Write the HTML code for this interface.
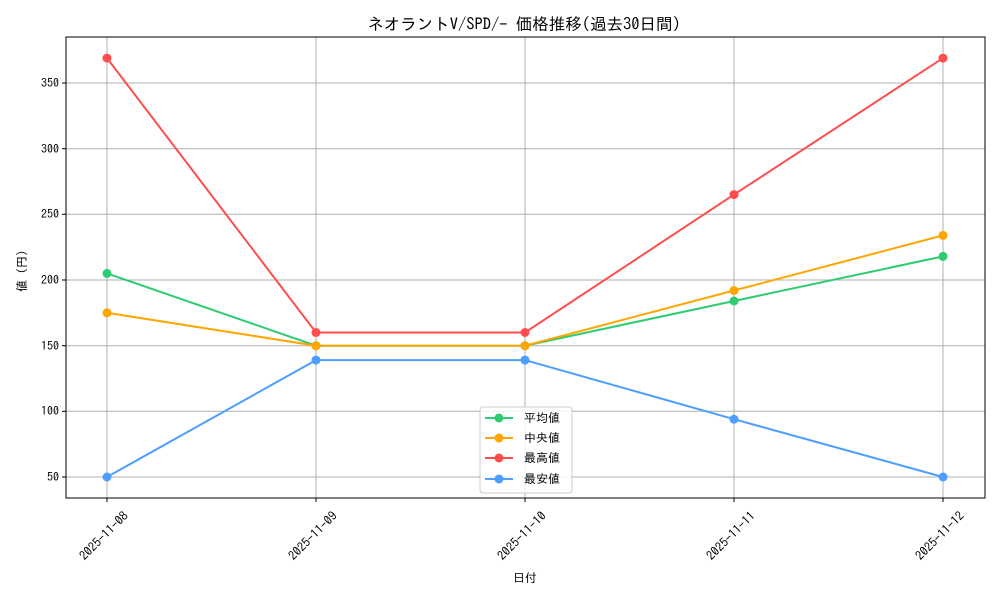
<!DOCTYPE html>
<html><head><meta charset="utf-8"><style>
html,body{margin:0;padding:0;background:#fff;}
svg text{font-family:"IPAGothic","Liberation Sans","Noto Sans CJK JP",sans-serif;fill:#000;}
</style></head><body>
<svg width="1000" height="600" xmlns="http://www.w3.org/2000/svg">
<rect width="1000" height="600" fill="#fff"/>
<g stroke="#b0b0b0" stroke-width="1">
<line x1="107" y1="37" x2="107" y2="498"/><line x1="316" y1="37" x2="316" y2="498"/><line x1="525" y1="37" x2="525" y2="498"/><line x1="734" y1="37" x2="734" y2="498"/><line x1="943" y1="37" x2="943" y2="498"/>
<line x1="66" y1="477" x2="985" y2="477"/><line x1="66" y1="411.3" x2="985" y2="411.3"/><line x1="66" y1="345.7" x2="985" y2="345.7"/><line x1="66" y1="280" x2="985" y2="280"/><line x1="66" y1="214.3" x2="985" y2="214.3"/><line x1="66" y1="148.7" x2="985" y2="148.7"/><line x1="66" y1="83" x2="985" y2="83"/>
</g>
<rect x="66" y="37" width="919" height="461" fill="none" stroke="#000" stroke-width="1"/>
<g stroke="#000">
<line x1="107" y1="498" x2="107" y2="502"/><line x1="316" y1="498" x2="316" y2="502"/><line x1="525" y1="498" x2="525" y2="502"/><line x1="734" y1="498" x2="734" y2="502"/><line x1="943" y1="498" x2="943" y2="502"/>
<line x1="62" y1="477" x2="66" y2="477"/><line x1="62" y1="411.3" x2="66" y2="411.3"/><line x1="62" y1="345.7" x2="66" y2="345.7"/><line x1="62" y1="280" x2="66" y2="280"/><line x1="62" y1="214.3" x2="66" y2="214.3"/><line x1="62" y1="148.7" x2="66" y2="148.7"/><line x1="62" y1="83" x2="66" y2="83"/>
</g>
<g font-size="12" text-anchor="end">
<text x="59" y="481">50</text><text x="59" y="415">100</text><text x="59" y="350">150</text><text x="59" y="284">200</text><text x="59" y="218">250</text><text x="59" y="153">300</text><text x="59" y="87">350</text>
</g>
<g font-size="12.5" text-anchor="middle">
<text transform="translate(104,536) rotate(-45)" dy="4">2025-11-08</text>
<text transform="translate(313,536) rotate(-45)" dy="4">2025-11-09</text>
<text transform="translate(522,536) rotate(-45)" dy="4">2025-11-10</text>
<text transform="translate(731,536) rotate(-45)" dy="4">2025-11-11</text>
<text transform="translate(940,536) rotate(-45)" dy="4">2025-11-12</text>
</g>
<text x="525" y="582" font-size="12" text-anchor="middle">日付</text>
<text transform="translate(26,268) rotate(-90)" font-size="12" text-anchor="middle">値（円）</text>
<text x="524" y="30" font-size="16.5" text-anchor="middle">ネオラントV/SPD/- 価格推移(過去30日間)</text>
<g fill="none" stroke-width="2">
<polyline stroke="#2ecc71" points="107,273.4 316,345.7 525,345.7 734,301 943,256.4"/>
<polyline stroke="#ffa500" points="107,312.8 316,345.7 525,345.7 734,290.5 943,235.4"/>
<polyline stroke="#ff4d4d" points="107,58.1 316,332.5 525,332.5 734,194.6 943,58.1"/>
<polyline stroke="#4d9eff" points="107,477 316,360.1 525,360.1 734,419.2 943,477"/>
</g>
<g fill="#2ecc71"><circle cx="107" cy="273.4" r="4.5"/><circle cx="316" cy="345.7" r="4.5"/><circle cx="525" cy="345.7" r="4.5"/><circle cx="734" cy="301" r="4.5"/><circle cx="943" cy="256.4" r="4.5"/></g>
<g fill="#ffa500"><circle cx="107" cy="312.8" r="4.5"/><circle cx="316" cy="345.7" r="4.5"/><circle cx="525" cy="345.7" r="4.5"/><circle cx="734" cy="290.5" r="4.5"/><circle cx="943" cy="235.4" r="4.5"/></g>
<g fill="#ff4d4d"><circle cx="107" cy="58.1" r="4.5"/><circle cx="316" cy="332.5" r="4.5"/><circle cx="525" cy="332.5" r="4.5"/><circle cx="734" cy="194.6" r="4.5"/><circle cx="943" cy="58.1" r="4.5"/></g>
<g fill="#4d9eff"><circle cx="107" cy="477" r="4.5"/><circle cx="316" cy="360.1" r="4.5"/><circle cx="525" cy="360.1" r="4.5"/><circle cx="734" cy="419.2" r="4.5"/><circle cx="943" cy="477" r="4.5"/></g>
<rect x="480" y="407" width="92" height="86" rx="3" fill="#fff" fill-opacity="0.8" stroke="#ccc"/>
<g stroke-width="2">
<line x1="485" y1="418" x2="513" y2="418" stroke="#2ecc71"/><circle cx="499" cy="418" r="4.5" fill="#2ecc71"/>
<line x1="485" y1="438" x2="513" y2="438" stroke="#ffa500"/><circle cx="499" cy="438" r="4.5" fill="#ffa500"/>
<line x1="485" y1="458" x2="513" y2="458" stroke="#ff4d4d"/><circle cx="499" cy="458" r="4.5" fill="#ff4d4d"/>
<line x1="485" y1="479" x2="513" y2="479" stroke="#4d9eff"/><circle cx="499" cy="479" r="4.5" fill="#4d9eff"/>
</g>
<g font-size="12">
<text x="524" y="422">平均値</text><text x="524" y="442">中央値</text><text x="524" y="462">最高値</text><text x="524" y="483">最安値</text>
</g>
</svg>
</body></html>
